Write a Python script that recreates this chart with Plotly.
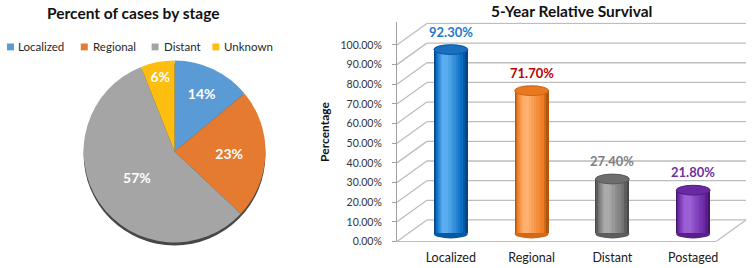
import plotly.graph_objects as go

# ---------------- data ----------------
stages = ["Localized", "Regional", "Distant", "Unknown"]
stage_pct = [14, 23, 57, 6]

surv_cats = ["Localized", "Regional", "Distant", "Postaged"]
surv_vals = [92.30, 71.70, 27.40, 21.80]
y_tick_vals = [0, 10, 20, 30, 40, 50, 60, 70, 80, 90, 100]

# ---------------- styles ----------------
pie_colors = ["#5B9BD5", "#E57B30", "#A5A5A5", "#FDBE10"]
edge_c = ["#084683", "#B0560F", "#484848", "#43156B"]
main_c = ["#0A6CC2", "#F07C22", "#727272", "#6C2AA6"]
hi_c = ["#5AAEF0", "#FFB070", "#ABABAB", "#9C60D6"]
top_c = ["#1A6FBE", "#E9781E", "#6E6E6E", "#6A28A2"]
label_c = ["#1F78C8", "#C00000", "#808080", "#7030A0"]
legend_sq_x = [7, 81, 152, 213]      # legend layout (pixels)
legend_txt_x = [16, 91, 162, 223]

W, H = 752, 268
FONT = "Lato"


def px(x):
    return x / W


def py(y):
    return 1 - y / H


def mix(c1, c2, t):
    a = [int(c1[i:i + 2], 16) for i in (1, 3, 5)]
    b = [int(c2[i:i + 2], 16) for i in (1, 3, 5)]
    return "#" + "".join(f"{round(a[k] + (b[k] - a[k]) * t):02x}" for k in range(3))


# geometry
FRONT0, FRONT_K, TOP = 247, 2.01, 23
BAR0, BAR_K = 239, 2.04
DEPTH_X, DEPTH_Y = 30, 22
X_LEFT, X_RIGHT = 398, 718
CAT0, CAT_STEP = 452, 81

back_dy = DEPTH_Y / FRONT_K
xdom_w = X_RIGHT - X_LEFT
back_dx = DEPTH_X / xdom_w

fig = go.Figure()

# ---------------- pie ----------------
cx, cy, r = 175, 155, 93
fig.add_trace(go.Pie(
    values=[1], labels=["shadow"], marker=dict(colors=["#474747"]),
    domain=dict(x=[px(cx - r), px(cx + r)], y=[py(cy + r + 3), py(cy - r + 3)]),
    textinfo="none", hoverinfo="skip", showlegend=False, sort=False,
))
fig.add_trace(go.Pie(
    labels=stages, values=stage_pct, sort=False, direction="clockwise", rotation=0,
    marker=dict(colors=pie_colors, line=dict(width=0)),
    domain=dict(x=[px(cx - r), px(cx + r)], y=[py(cy + r), py(cy - r)]),
    textinfo="percent", texttemplate="%{percent:.0%}", textposition="inside",
    insidetextorientation="horizontal",
    textfont=dict(family=FONT, size=14, color="white", weight="bold"),
    showlegend=False,
))

# ---------------- cylinders (layered bars for shading) ----------------
idx = list(range(len(surv_cats)))
bw = 34 / CAT_STEP
n_layers = 9
for j in range(n_layers):
    t = j / (n_layers - 1)
    w = bw * (1 - 0.82 * t)
    center = -0.17 * bw * t
    if t <= 0.25:
        cols = [mix(edge_c[k], main_c[k], t / 0.25) for k in idx]
    else:
        cols = [mix(main_c[k], hi_c[k], (t - 0.25) / 0.75) for k in idx]
    fig.add_trace(go.Bar(
        x=surv_cats, y=surv_vals, marker=dict(color=cols, line=dict(width=0)),
        width=w, offset=center - w / 2, xaxis="x", yaxis="y2", showlegend=False,
        hoverinfo="skip",
    ))

shapes = []
ell_h = 5 / BAR_K
for i, v in zip(idx, surv_vals):
    shapes.append(dict(type="circle", xref="x", yref="y2", x0=i - bw / 2, x1=i + bw / 2,
                       y0=-ell_h, y1=ell_h, fillcolor=mix(edge_c[i], main_c[i], 0.5),
                       line=dict(width=0), layer="below"))
    shapes.append(dict(type="circle", xref="x", yref="y2", x0=i - bw / 2, x1=i + bw / 2,
                       y0=v - ell_h, y1=v + ell_h, fillcolor=top_c[i],
                       line=dict(width=1, color=mix(edge_c[i], main_c[i], 0.4)), layer="above"))

# 3-D walls: diagonals + back gridlines + floor edge
grid_col = "#BDBDBD"
for t in y_tick_vals:
    shapes.append(dict(type="line", xref="x domain", yref="y", x0=0, x1=back_dx,
                       y0=t, y1=t + back_dy, line=dict(color=grid_col, width=1.3),
                       layer="below"))
    shapes.append(dict(type="line", xref="x domain", yref="y", x0=back_dx, x1=1 + back_dx,
                       y0=t + back_dy, y1=t + back_dy, line=dict(color=grid_col, width=1.3),
                       layer="below"))
shapes.append(dict(type="line", xref="x domain", yref="y", x0=1, x1=1 + back_dx,
                   y0=0, y1=back_dy, line=dict(color=grid_col, width=1.3), layer="below"))

annotations = []
for i, v in zip(idx, surv_vals):
    annotations.append(dict(x=i, y=v, xref="x", yref="y2", text=f"{v:.2f}%",
                            showarrow=False, yshift=18, yanchor="middle",
                            font=dict(family=FONT, size=13, color=label_c[i], weight="bold")))

# pie legend (squares + labels)
LEG_Y, SQ = 48, 7
for k, name in enumerate(stages):
    shapes.append(dict(type="rect", xref="paper", yref="paper",
                       x0=px(legend_sq_x[k]), x1=px(legend_sq_x[k] + SQ),
                       y0=py(LEG_Y + SQ / 2), y1=py(LEG_Y - SQ / 2),
                       fillcolor=pie_colors[k], line=dict(width=0)))
    annotations.append(dict(x=px(legend_txt_x[k]), y=py(LEG_Y), xref="paper", yref="paper",
                            text=name, showarrow=False, xanchor="left", yanchor="middle",
                            font=dict(family=FONT, size=11.5, color="#262626")))

annotations.append(dict(x=px(133), y=py(13), xref="paper", yref="paper",
                        text="Percent of cases by stage", showarrow=False,
                        xanchor="center", yanchor="middle",
                        font=dict(family=FONT, size=15.5, color="#111111", weight="bold")))
annotations.append(dict(x=px(573), y=py(11), xref="paper", yref="paper",
                        text="5-Year Relative Survival", showarrow=False,
                        xanchor="center", yanchor="middle",
                        font=dict(family=FONT, size=15.5, color="#111111", weight="bold")))

y_dom = [py(FRONT0), py(TOP)]
fig.update_layout(
    width=W, height=H, margin=dict(l=0, r=0, t=0, b=0),
    paper_bgcolor="white", plot_bgcolor="rgba(0,0,0,0)",
    barmode="overlay", bargap=0,
    font=dict(family=FONT),
    showlegend=False,
    xaxis=dict(domain=[px(X_LEFT), px(X_RIGHT)], type="category",
               range=[-(CAT0 - X_LEFT) / CAT_STEP, -(CAT0 - X_LEFT) / CAT_STEP + xdom_w / CAT_STEP],
               showgrid=False, zeroline=False, showline=True, linecolor=grid_col, linewidth=1.3,
               ticks="", ticklabelstandoff=4,
               tickfont=dict(family=FONT, size=12.5, color="#1a1a1a"),
               anchor="y", fixedrange=True),
    yaxis=dict(domain=y_dom, range=[0, (FRONT0 - TOP) / FRONT_K],
               tickvals=y_tick_vals, ticktext=[f"{t:.2f}%" for t in y_tick_vals],
               showgrid=False, zeroline=False, showline=True, linecolor="#A0A0A0", linewidth=1,
               ticks="outside", ticklen=4, tickcolor="#A0A0A0", ticklabelstandoff=8,
               tickfont=dict(family=FONT, size=10.5, color="#333333"),
               title=dict(text="Percentage", standoff=8,
                          font=dict(family=FONT, size=12, color="#111111", weight="bold")),
               anchor="x", fixedrange=True),
    yaxis2=dict(domain=y_dom, overlaying="y", anchor="x",
                range=[(BAR0 - FRONT0) / BAR_K, (BAR0 - TOP) / BAR_K],
                visible=False, fixedrange=True),
    shapes=shapes,
    annotations=annotations,
)

fig.write_html("out.html", config={"displayModeBar": False},
               post_script="document.body.style.margin='0px';")
